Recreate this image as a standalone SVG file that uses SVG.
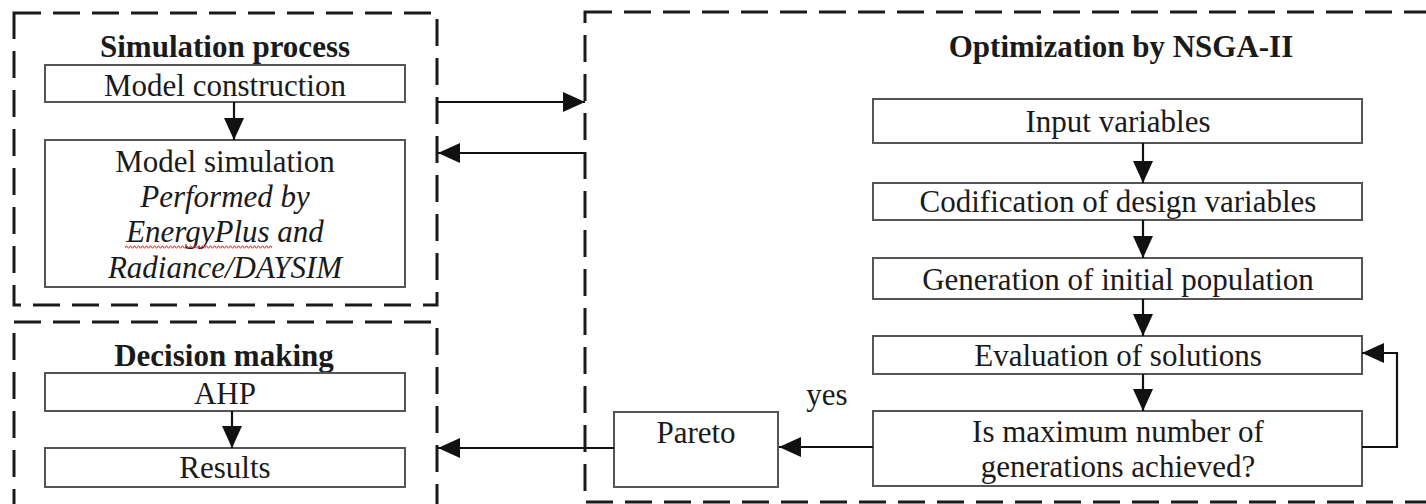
<svg xmlns="http://www.w3.org/2000/svg" width="1426" height="504" viewBox="0 0 1426 504">
<style>
.grp{fill:none;stroke:#1a1a1a;stroke-width:3;stroke-dasharray:27 12}
.box{fill:#fff;stroke:#555;stroke-width:2}
.t{font-family:"Liberation Serif","Times New Roman",serif;font-size:31px;fill:#1a1a1a;text-anchor:middle}
.b{font-weight:bold}
.i{font-style:italic}
.c{fill:none;stroke:#111;stroke-width:2.2}
</style>
<defs>
<marker id="ah" viewBox="0 0 22 20" refX="22" refY="10" markerWidth="22" markerHeight="20" markerUnits="userSpaceOnUse" orient="auto">
<path d="M0,0 L22,10 L0,20 z" fill="#111"/>
</marker>
<pattern id="wave" x="125" y="245" width="4" height="4" patternUnits="userSpaceOnUse">
<polyline points="0,3 1,1 2,1 3,3 4,3" fill="none" stroke="#e33" stroke-width="1"/>
</pattern>
</defs>
<rect width="1426" height="504" fill="#fff"/>
<g id="group-simulation">
<rect class="grp" x="14" y="13" width="423" height="292"/>
<text class="t b" x="225" y="57">Simulation process</text>
</g>
<g id="group-decision">
<rect class="grp" x="14" y="322" width="423" height="220"/>
<text class="t b" x="224" y="366">Decision making</text>
</g>
<g id="group-optimization">
<rect class="grp" x="585" y="12" width="900" height="490"/>
<text class="t b" x="1121" y="57">Optimization by NSGA-II</text>
</g>
<g id="model-construction">
<rect class="box" x="45" y="65" width="360" height="37"/>
<text class="t" x="225" y="96">Model construction</text>
</g>
<g id="model-simulation">
<rect class="box" x="45" y="140" width="360" height="147"/>
<text class="t" x="225" y="172">Model simulation</text>
<text class="t i" x="225" y="207">Performed by</text>
<text class="t i" x="225" y="242">EnergyPlus and</text>
<rect x="125" y="245" width="147" height="4" fill="url(#wave)"/>
<text class="t i" x="225" y="278">Radiance/DAYSIM</text>
</g>
<g id="ahp">
<rect class="box" x="45" y="373" width="360" height="38"/>
<text class="t" x="225" y="404">AHP</text>
</g>
<g id="results">
<rect class="box" x="45" y="448" width="360" height="39"/>
<text class="t" x="225" y="478">Results</text>
</g>
<g id="input-variables">
<rect class="box" x="873" y="99" width="489" height="44"/>
<text class="t" x="1118" y="132">Input variables</text>
</g>
<g id="codification">
<rect class="box" x="873" y="183" width="489" height="37"/>
<text class="t" x="1118" y="212">Codification of design variables</text>
</g>
<g id="generation">
<rect class="box" x="873" y="258" width="489" height="41"/>
<text class="t" x="1118" y="290">Generation of initial population</text>
</g>
<g id="evaluation">
<rect class="box" x="873" y="336" width="489" height="38"/>
<text class="t" x="1118" y="366">Evaluation of solutions</text>
</g>
<g id="max-generations">
<rect class="box" x="873" y="411" width="489" height="75"/>
<text class="t" x="1118" y="442">Is maximum number of</text>
<text class="t" x="1118" y="477">generations achieved?</text>
</g>
<g id="pareto">
<rect class="box" x="614" y="412" width="164" height="75"/>
<text class="t" x="696" y="443">Pareto</text>
</g>
<g id="connectors">
<line class="c" x1="234" y1="102" x2="234" y2="140" marker-end="url(#ah)"/>
<line class="c" x1="232" y1="411" x2="232" y2="448" marker-end="url(#ah)"/>
<line class="c" x1="437" y1="102" x2="585" y2="102" marker-end="url(#ah)"/>
<line class="c" x1="584" y1="153" x2="438" y2="153" marker-end="url(#ah)"/>
<line class="c" x1="1143" y1="143" x2="1143" y2="183" marker-end="url(#ah)"/>
<line class="c" x1="1143" y1="220" x2="1143" y2="258" marker-end="url(#ah)"/>
<line class="c" x1="1143" y1="299" x2="1143" y2="336" marker-end="url(#ah)"/>
<line class="c" x1="1143" y1="374" x2="1143" y2="411" marker-end="url(#ah)"/>
<line class="c" x1="873" y1="447" x2="779" y2="447" marker-end="url(#ah)"/>
<line class="c" x1="614" y1="448" x2="438" y2="448" marker-end="url(#ah)"/>
<polyline class="c" points="1362,447 1397,447 1397,353 1362,353" marker-end="url(#ah)"/>
<text class="t" x="827" y="405">yes</text>
</g>
</svg>
